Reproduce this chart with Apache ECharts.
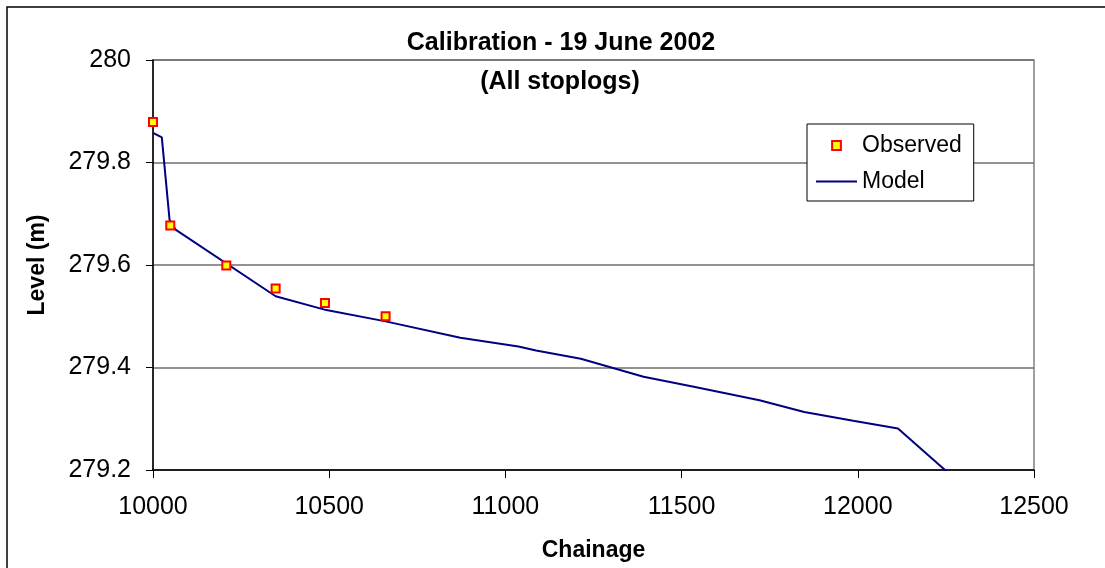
<!DOCTYPE html>
<html>
<head>
<meta charset="utf-8">
<script src="https://cdn.jsdelivr.net/npm/echarts@6/dist/echarts.min.js"></script>
<style>
  html, body { margin: 0; padding: 0; background: #fff; }
  #chart { width: 1105px; height: 568px; }
</style>
</head>
<body>
<div id="chart"></div>
<script>
// observed levels along the channel
const observedChainage = [10000, 10049, 10208, 10348, 10488, 10660]
const observedLevel = [279.879, 279.677, 279.599, 279.554, 279.526, 279.500]

// model profile
const modelChainage = [10000, 10025, 10047, 10064, 10348, 10492, 10660, 10872, 11037, 11087, 11214, 11392, 11531, 11721, 11848, 11987, 12114, 12259]
const modelLevel = [279.858, 279.849, 279.688, 279.669, 279.539, 279.512, 279.490, 279.458, 279.441, 279.433, 279.417, 279.382, 279.363, 279.336, 279.313, 279.296, 279.281, 279.193]

const titleLines = ['Calibration - 19 June 2002', '(All stoplogs)']
const seriesNames = ['Observed', 'Model']

const FONT = '"Liberation Sans", Arial, sans-serif'

const chart = echarts.init(document.getElementById('chart'))

const option = {
  animation: false,
  backgroundColor: '#fff',
  textStyle: { fontFamily: FONT },
  graphic: [
    {
      type: 'rect',
      shape: { x: 7, y: 7, width: 1200, height: 700 },
      style: { fill: 'none', stroke: '#000', lineWidth: 1.5 },
      silent: true
    },
    {
      type: 'text',
      x: 561, y: 43,
      style: {
        text: titleLines[0], fill: '#000',
        font: 'bold 25px ' + FONT,
        textAlign: 'center', textVerticalAlign: 'middle'
      }
    },
    {
      type: 'text',
      x: 560, y: 82,
      style: {
        text: titleLines[1], fill: '#000',
        font: 'bold 25px ' + FONT,
        textAlign: 'center', textVerticalAlign: 'middle'
      }
    }
  ],
  grid: {
    left: 153,
    right: 71,
    top: 60,
    bottom: 98,
    show: true,
    borderColor: '#808080',
    borderWidth: 1.5
  },
  legend: {
    orient: 'vertical',
    left: 807,
    top: 124,
    data: [
      { name: seriesNames[0] },
      { name: seriesNames[1], itemStyle: { opacity: 0 } }
    ],
    backgroundColor: '#fff',
    borderColor: '#000',
    borderWidth: 1,
    padding: [10, 12, 8, 8],
    itemWidth: 41,
    itemHeight: 11,
    itemGap: 13,
    textStyle: { fontSize: 23, color: '#000', fontFamily: FONT }
  },
  xAxis: {
    type: 'value',
    min: 10000,
    max: 12500,
    interval: 500,
    name: 'Chainage',
    nameLocation: 'middle',
    nameGap: 69,
    nameTextStyle: { fontSize: 23, fontWeight: 'bold', color: '#000' },
    axisLine: { show: true, onZero: false, lineStyle: { color: '#000', width: 1.5 } },
    axisTick: { show: true, inside: false, length: 8, lineStyle: { color: '#000' } },
    axisLabel: { fontSize: 25, color: '#000', margin: 25, formatter: v => String(v) },
    splitLine: { show: false }
  },
  yAxis: {
    type: 'value',
    min: 279.2,
    max: 280,
    interval: 0.2,
    name: 'Level (m)',
    nameLocation: 'middle',
    nameGap: 104,
    nameTextStyle: { fontSize: 23, fontWeight: 'bold', color: '#000' },
    axisLine: { show: true, lineStyle: { color: '#000', width: 1.5 } },
    axisTick: { show: true, inside: false, length: 7, lineStyle: { color: '#000' } },
    axisLabel: {
      fontSize: 25, color: '#000', margin: 22,
      formatter: v => String(Math.round(v * 10) / 10)
    },
    splitLine: { show: true, lineStyle: { color: '#6e6e6e', width: 1.5 } }
  },
  series: [
    {
      name: seriesNames[1],
      type: 'line',
      data: modelChainage.map((x, i) => [x, modelLevel[i]]),
      symbol: 'none',
      clip: true,
      lineStyle: { color: '#000080', width: 2 },
      itemStyle: { color: '#000080' },
      z: 2
    },
    {
      // markers only: line drawn with zero width
      name: seriesNames[0],
      type: 'line',
      data: observedChainage.map((x, i) => [x, observedLevel[i]]),
      symbol: 'rect',
      symbolSize: 8,
      showSymbol: true,
      showAllSymbol: true,
      lineStyle: { width: 0, opacity: 0 },
      itemStyle: { color: '#ffff00', borderColor: '#ff0000', borderWidth: 2, opacity: 1 },
      clip: false,
      z: 3
    }
  ]
}

chart.setOption(option)
</script>
</body>
</html>
